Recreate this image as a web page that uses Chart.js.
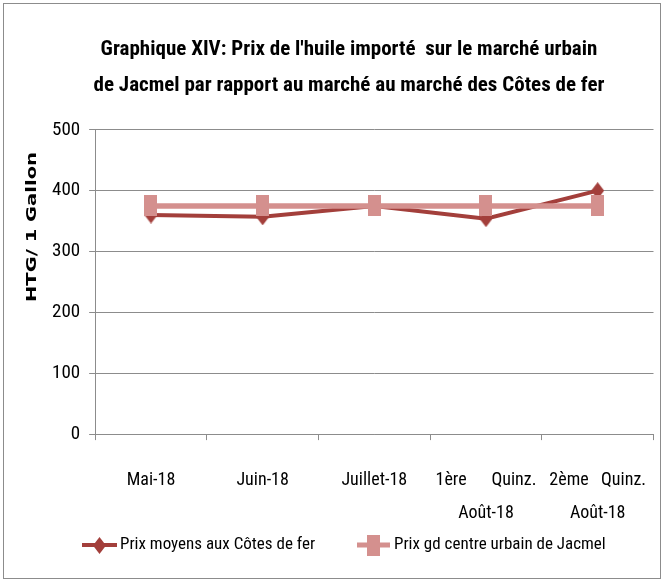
<!DOCTYPE html>
<html>
<head>
<meta charset="utf-8">
<script src="https://cdn.jsdelivr.net/npm/chart.js@4"></script>
<style>
  html, body { margin: 0; padding: 0; background: #fff; }
  #wrap { position: absolute; left: 3px; top: 3px; width: 656px; height: 574px; border: 1px solid #8c8c8c; }
  canvas { position: absolute; left: 0; top: 0; }
</style>
</head>
<body>
<div id="wrap"></div>
<canvas id="chart" width="663" height="582"></canvas>
<script>
// Data
const categories = ['Mai-18', 'Juin-18', 'Juillet-18', ['1ère      Quinz.', 'Août-18'], ['2ème   Quinz.', 'Août-18']];
const prixCotesDeFer = [360, 357, 375, 354, 400];
const prixJacmel = [375, 375, 375, 375, 375];
const seriesNames = ['Prix moyens aux Côtes de fer', 'Prix gd centre urbain de Jacmel'];
const titleLines = ["Graphique XIV: Prix de l'huile importé  sur le marché urbain", "de Jacmel par rapport au marché au marché des Côtes de fer"];
const yAxisTitle = 'HTG/ 1 Gallon';

const FONT = "'Liberation Sans Narrow', 'Arial Narrow', 'Roboto Condensed', sans-serif";
const darkRed = '#a33f3b';
const pink = '#d4908e';

// marker images (the markers are taller than wide in the reference)
function makeMarker(kind, w, h, color) {
    const c = document.createElement('canvas');
    c.width = w; c.height = h;
    const g = c.getContext('2d');
    g.fillStyle = color;
    if (kind === 'rect') {
        g.fillRect(0, 0, w, h);
    } else {
        g.beginPath();
        g.moveTo(w / 2, 0); g.lineTo(w, h / 2); g.lineTo(w / 2, h); g.lineTo(0, h / 2);
        g.closePath(); g.fill();
    }
    return c;
}
const diamond = makeMarker('diamond', 13, 17, darkRed);
const square = makeMarker('rect', 13, 21, pink);

// legend at the bottom and the y axis title (stretched like the reference)
const extrasPlugin = {
    id: 'extras',
    afterDraw(chart) {
        const ctx = chart.ctx;
        const y = 545;
        ctx.save();
        ctx.font = "17px " + FONT;
        ctx.textBaseline = 'middle';
        ctx.strokeStyle = darkRed;
        ctx.lineWidth = 4;
        ctx.beginPath(); ctx.moveTo(82, y); ctx.lineTo(117, y); ctx.stroke();
        ctx.drawImage(diamond, 93, y - 8);
        ctx.fillStyle = '#000';
        ctx.fillText(seriesNames[0], 120, y);
        ctx.strokeStyle = pink;
        ctx.lineWidth = 5;
        ctx.beginPath(); ctx.moveTo(357, y); ctx.lineTo(390, y); ctx.stroke();
        ctx.drawImage(square, 367, y - 10);
        ctx.fillStyle = '#000';
        ctx.fillText(seriesNames[1], 394, y);
        ctx.restore();

        ctx.save();
        ctx.font = "bold 14px 'DejaVu Sans', sans-serif";
        ctx.fillStyle = '#000';
        ctx.textAlign = 'center';
        ctx.textBaseline = 'middle';
        const w = ctx.measureText(yAxisTitle).width;
        ctx.translate(32, 227);
        ctx.rotate(-Math.PI / 2);
        ctx.scale(150 / w, 1);
        ctx.fillText(yAxisTitle, 0, 0);
        ctx.restore();
    }
};

const ctx = document.getElementById('chart').getContext('2d');
const chart = new Chart(ctx, {
    type: 'line',
    data: {
        labels: categories,
        datasets: [
            {
                label: seriesNames[0],
                data: prixCotesDeFer,
                borderColor: darkRed,
                backgroundColor: darkRed,
                borderWidth: 4,
                pointStyle: diamond,
                tension: 0,
                order: 1
            },
            {
                label: seriesNames[1],
                data: prixJacmel,
                borderColor: pink,
                backgroundColor: pink,
                borderWidth: 5.5,
                pointStyle: square,
                tension: 0,
                order: 0
            }
        ]
    },
    options: {
        responsive: false,
        animation: false,
        layout: { padding: { left: 43, right: 8, top: 0, bottom: 28 } },
        plugins: {
            legend: { display: false },
            tooltip: { enabled: false },
            title: {
                display: true,
                text: titleLines,
                color: '#000',
                font: { family: FONT, size: 21, weight: 'bold', lineHeight: 1.71 },
                padding: { top: 32, bottom: 26 }
            }
        },
        scales: {
            x: {
                offset: true,
                grid: { offset: true, drawOnChartArea: false, color: '#8c8c8c', tickLength: 6 },
                border: { color: '#8c8c8c' },
                ticks: {
                    color: '#000',
                    font: { family: FONT, size: 18, lineHeight: 1.83 },
                    padding: 24,
                    maxRotation: 0,
                    autoSkip: false
                },
                // labels sit inside their category, no side padding needed
                afterFit(scale) {
                    scale.paddingLeft = 0;
                    scale.paddingRight = 0;
                }
            },
            y: {
                min: 0,
                max: 500,
                ticks: {
                    stepSize: 100,
                    color: '#000',
                    font: { family: FONT, size: 19 },
                    padding: 9
                },
                grid: { color: '#8c8c8c', tickLength: 6 },
                border: { color: '#8c8c8c' }
            }
        }
    },
    plugins: [extrasPlugin]
});
</script>
</body>
</html>
